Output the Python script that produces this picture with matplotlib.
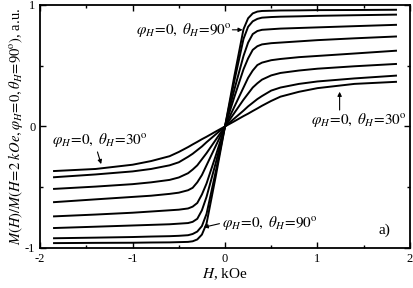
import matplotlib
matplotlib.use("Agg")
import matplotlib.pyplot as plt

plt.rcParams['font.family'] = ['Liberation Serif', 'DejaVu Serif']
plt.rcParams['mathtext.fontset'] = 'stix'

# field values, kOe
H = [-1.85, -1.4, -1.0, -0.8, -0.6, -0.5, -0.4, -0.35, -0.3, -0.25, -0.2, -0.1,
     0, 0.1, 0.2, 0.25, 0.3, 0.35, 0.4, 0.5, 0.6, 0.8, 1.0, 1.4, 1.85]

# normalised magnetisation, curves from theta_H = 90 deg down to 30 deg
m90 = [-0.96, -0.958, -0.957, -0.955, -0.954, -0.952, -0.95, -0.945, -0.93, -0.89, -0.80, -0.41,
       0, 0.41, 0.80, 0.89, 0.93, 0.945, 0.95, 0.952, 0.954, 0.955, 0.957, 0.958, 0.96]
m80 = [-0.92, -0.915, -0.91, -0.906, -0.903, -0.90, -0.895, -0.885, -0.865, -0.82, -0.72, -0.37,
       0, 0.37, 0.72, 0.82, 0.865, 0.885, 0.895, 0.90, 0.903, 0.906, 0.91, 0.915, 0.92]
m70 = [-0.836, -0.825, -0.815, -0.81, -0.805, -0.80, -0.795, -0.785, -0.76, -0.69, -0.58, -0.30,
       0, 0.30, 0.58, 0.69, 0.76, 0.785, 0.795, 0.80, 0.805, 0.81, 0.815, 0.825, 0.836]
m60 = [-0.74, -0.725, -0.71, -0.70, -0.69, -0.685, -0.675, -0.66, -0.63, -0.56, -0.47, -0.24,
       0, 0.24, 0.47, 0.56, 0.63, 0.66, 0.675, 0.685, 0.69, 0.70, 0.71, 0.725, 0.74]
m50 = [-0.623, -0.60, -0.58, -0.57, -0.555, -0.545, -0.525, -0.505, -0.46, -0.40, -0.32, -0.16,
       0, 0.16, 0.32, 0.40, 0.46, 0.505, 0.525, 0.545, 0.555, 0.57, 0.58, 0.60, 0.623]
m45 = [-0.514, -0.495, -0.475, -0.46, -0.44, -0.42, -0.385, -0.355, -0.32, -0.27, -0.22, -0.11,
       0, 0.11, 0.22, 0.27, 0.32, 0.355, 0.385, 0.42, 0.44, 0.46, 0.475, 0.495, 0.514]
m40 = [-0.418, -0.395, -0.37, -0.35, -0.32, -0.295, -0.25, -0.225, -0.195, -0.165, -0.13, -0.065,
       0, 0.065, 0.13, 0.165, 0.195, 0.225, 0.25, 0.295, 0.32, 0.35, 0.37, 0.395, 0.418]
m30 = [-0.367, -0.35, -0.315, -0.285, -0.245, -0.21, -0.17, -0.148, -0.127, -0.105, -0.085, -0.042,
       0, 0.042, 0.085, 0.105, 0.127, 0.148, 0.17, 0.21, 0.245, 0.285, 0.315, 0.35, 0.367]

curves = [m90, m80, m70, m60, m50, m45, m40, m30]

xticks = [-2, -1, 0, 1, 2]
xminor = [-1.5, -0.5, 0.5, 1.5]
yticks = [-1, 0, 1]
yminor = [-0.5, 0.5]

fig = plt.figure(figsize=(4.14, 2.88), dpi=100)
ax = fig.add_axes([0.097, 0.139, 0.893, 0.844])

for m in curves:
    ax.plot(H, m, color='black', lw=1.4)

ax.set_xlim(-2, 2)
ax.set_ylim(-1, 1)
ax.set_xticks(xticks)
ax.set_xticklabels([str(t) for t in xticks])
ax.set_xticks(xminor, minor=True)
ax.set_yticks(yticks)
ax.set_yticklabels([str(t) for t in yticks])
ax.set_yticks(yminor, minor=True)
ax.tick_params(which='both', direction='in', top=True, right=True, labelsize=9, width=1)
ax.tick_params(which='major', length=4)
ax.tick_params(which='minor', length=2.5)
for s in ax.spines.values():
    s.set_linewidth(1.3)

ax.set_xlabel(r'$H$, kOe', fontsize=11, labelpad=1)
ax.set_ylabel(r'$M(H)/M(H\!=\!2\ kOe,\varphi_H\!=\!0,\theta_H\!=\!90^{\rm o})$, a.u.',
              fontsize=10.5, labelpad=0)

lab90 = r'$\varphi_H\!=\!0,\ \theta_H\!=\!90^{\rm o}$'
lab30 = r'$\varphi_H\!=\!0,\ \theta_H\!=\!30^{\rm o}$'
arr = dict(arrowstyle='-|>', color='black', lw=0.8, mutation_scale=6, shrinkA=0, shrinkB=0)

# top: theta_H = 90
ax.text(0.07, 0.795, lab90, fontsize=11, ha='right', va='center')
ax.annotate('', xy=(0.19, 0.795), xytext=(0.08, 0.795), arrowprops=arr)
# bottom: theta_H = 90
ax.text(-0.03, -0.795, lab90, fontsize=11, ha='left', va='center')
ax.annotate('', xy=(-0.23, -0.83), xytext=(-0.06, -0.80), arrowprops=arr)
# right: theta_H = 30
ax.text(1.45, 0.055, lab30, fontsize=11, ha='center', va='center')
ax.annotate('', xy=(1.24, 0.285), xytext=(1.24, 0.135), arrowprops=arr)
# left: theta_H = 30
ax.text(-1.35, -0.115, lab30, fontsize=11, ha='center', va='center')
ax.annotate('', xy=(-1.34, -0.31), xytext=(-1.38, -0.21), arrowprops=arr)

ax.text(1.73, -0.857, 'a)', fontsize=11, ha='center', va='center')

fig.savefig('out.png', dpi=100)
